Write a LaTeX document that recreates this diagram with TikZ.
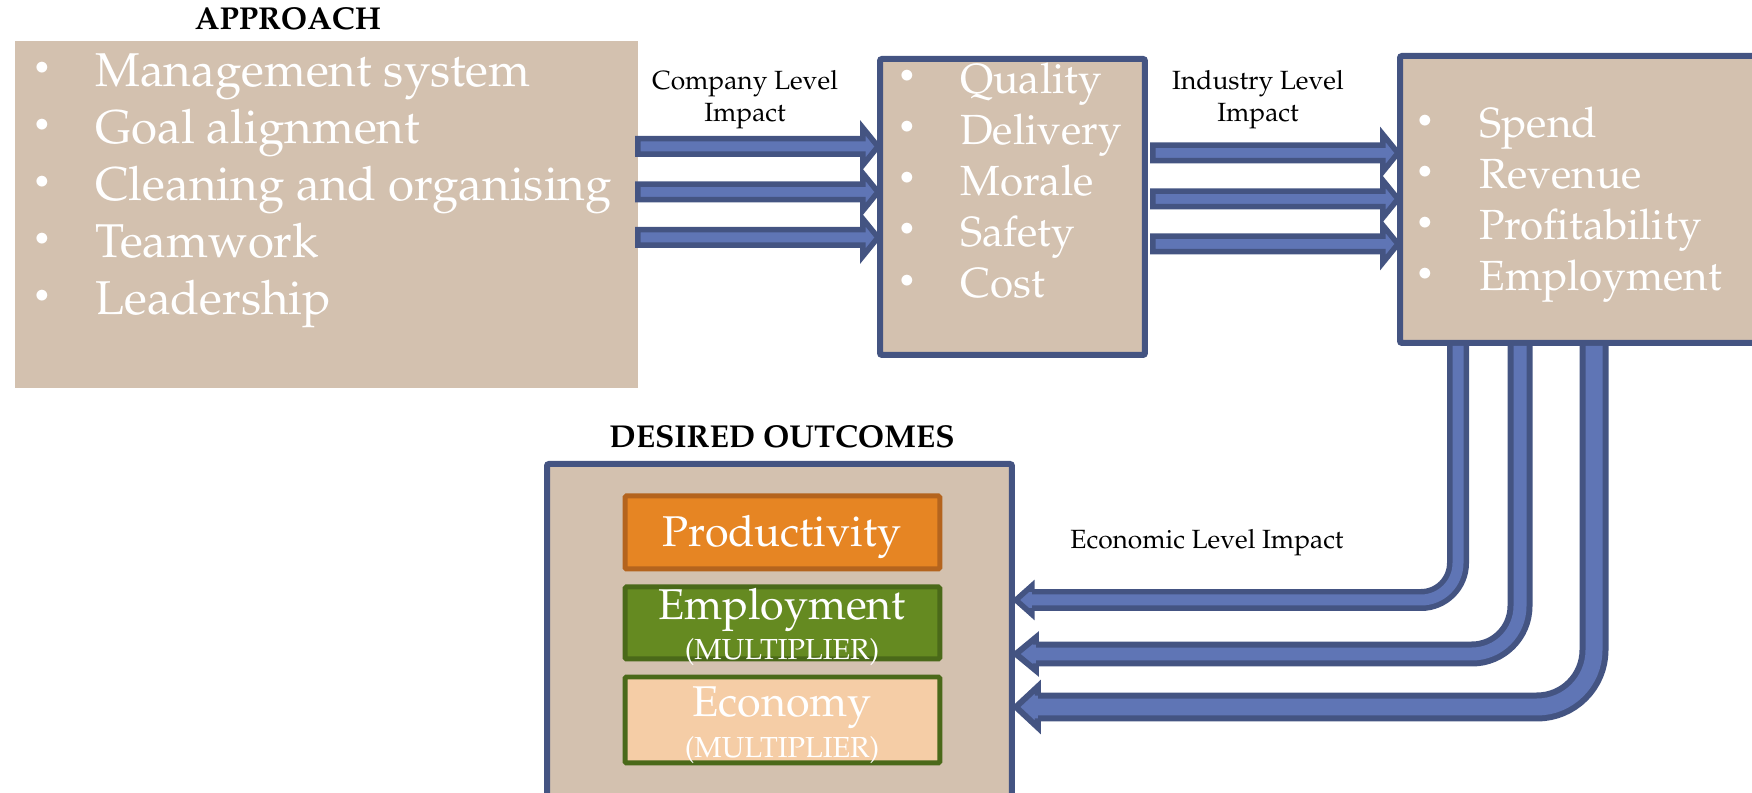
\documentclass[tikz,border=0pt]{standalone}
\usepackage[T1]{fontenc}
\usepackage{mathpazo}

\definecolor{tan}{RGB}{211,193,175}
\definecolor{edgeblue}{RGB}{68,84,130}
\definecolor{arrowblue}{RGB}{95,117,181}
\definecolor{prodorange}{RGB}{230,133,35}
\definecolor{prodedge}{RGB}{180,100,30}
\definecolor{emplgreen}{RGB}{101,138,33}
\definecolor{greenedge}{RGB}{74,105,25}
\definecolor{econpeach}{RGB}{245,205,166}

\tikzset{
	panel/.style={fill=tan, inner sep=0pt, outer sep=0pt, anchor=north west},
	framed/.style={panel, draw=edgeblue, line width=1.2mm, rounded corners=0.4mm},
	result/.style={inner sep=0pt, outer sep=0pt, anchor=north west, line width=1mm,
		rounded corners=0.3mm, minimum width=63mm},
	bullet/.style={text=white, anchor=center, inner sep=0pt, font=\fontsize{18}{20}\selectfont},
	item/.style={text=white, anchor=base west, inner sep=0pt},
	impact/.style={inner sep=0pt, align=center, font=\fontsize{15}{18}\selectfont},
	heading/.style={inner sep=0pt, anchor=base, font=\bfseries\fontsize{18}{22}\selectfont},
	block/.style={fill=arrowblue, draw=edgeblue, line width=1.1mm, line join=miter},
	pipe/.style={draw=edgeblue, double=arrowblue}
}

% straight block arrow: tail, tip
\newcommand\blockarrow[2]{%
	\draw[block] ([yshift=1.55mm]#1) -- ([xshift=-3.05mm,yshift=1.55mm]#2)
		-- ([xshift=-3.05mm,yshift=3.75mm]#2) -- (#2)
		-- ([xshift=-3.05mm,yshift=-3.75mm]#2) -- ([xshift=-3.05mm,yshift=-1.55mm]#2)
		-- ([yshift=-1.55mm]#1) -- cycle;}

\begin{document}
\begin{tikzpicture}[x=0.02cm, y=-0.02cm]
	\useasboundingbox (0,0) rectangle (1752,793);
	\clip (0,0) rectangle (1752,793);

	% boxes
	\node[panel, minimum width=124.6mm, minimum height=69.4mm] (approach) at (15,41) {};
	\node[framed, minimum width=53mm, minimum height=59.2mm] (mid) at (880,59) {};
	\node[framed, minimum width=80mm, minimum height=57.4mm] (right) at (1400,56) {};
	\node[framed, minimum width=93mm, minimum height=72mm] (outcome) at (547,464) {};

	\node[result, fill=prodorange, draw=prodedge, minimum height=14.6mm] (prod) at (625,496) {};
	\node[result, fill=emplgreen, draw=greenedge, minimum height=14.4mm] (empl) at (625,587) {};
	\node[result, fill=econpeach, draw=greenedge, minimum height=17.2mm] (econ) at (625,677) {};

	% titles
	\node[heading] (apptitle) at (288,30) {APPROACH};
	\node[heading] (outtitle) at (782,448) {DESIRED OUTCOMES};

	% bullet lists
	\foreach \txt [count=\i] in {Management system, Goal alignment, Cleaning and organising, Teamwork, Leadership} {
		\node[bullet] (ab\i) at (42, 13+57*\i) {\textbullet};
		\node[item, font=\fontsize{27}{32}\selectfont] (ai\i) at (95, 30+57*\i) {\txt};
	}
	\foreach \txt [count=\i] in {Quality, Delivery, Morale, Safety, Cost} {
		\node[bullet] (mb\i) at (907, 27+51.2*\i) {\textbullet};
		\node[item, font=\fontsize{24}{29}\selectfont] (mi\i) at (960, 42+51.2*\i) {\txt};
	}
	\foreach \txt [count=\i] in {Spend, Revenue, Profitability, Employment} {
		\node[bullet] (rb\i) at (1425, 72+51*\i) {\textbullet};
		\node[item, font=\fontsize{24}{29}\selectfont] (ri\i) at (1479, 87+51*\i) {\txt};
	}

	% outcome texts
	\node[anchor=base, inner sep=0pt, text=white, font=\fontsize{24.5}{29}\selectfont] (prodtxt) at (782,547) {Productivity};
	\node[anchor=base, inner sep=0pt, text=white, font=\fontsize{24.5}{29}\selectfont] (empltxt) at (782,620) {Employment};
	\node[anchor=base, inner sep=0pt, text=white, font=\fontsize{16.5}{20}\selectfont] (emplmul) at (782,660) {(MULTIPLIER)};
	\node[anchor=base, inner sep=0pt, text=white, font=\fontsize{24.5}{29}\selectfont] (econtxt) at (782,717) {Economy};
	\node[anchor=base, inner sep=0pt, text=white, font=\fontsize{16.5}{20}\selectfont] (econmul) at (782,757) {(MULTIPLIER)};

	% arrow labels
	\node[impact] (complabel) at (745,100) {Company Level\\Impact};
	\node[impact] (indlabel) at (1258,100) {Industry Level\\Impact};
	\node[impact, anchor=base] (ecolabel) at (1207,549) {Economic Level Impact};

	% company and industry arrows
	\foreach \ay [count=\i] in {146.5,192,237.5} {
		\coordinate (ct\i) at (approach.east |- 0,\ay);
		\path (mid.west |- 0,\ay) ++(-2,0) coordinate (ch\i);
		\blockarrow{ct\i}{ch\i}
	}
	\foreach \ay [count=\i] in {153,199,244} {
		\path (mid.east |- 0,\ay) ++(8,0) coordinate (it\i);
		\path (right.west |- 0,\ay) ++(-2,0) coordinate (ih\i);
		\blockarrow{it\i}{ih\i}
	}

	% economic arrows bending back to the outcomes
	\foreach \pipex/\ay/\rad/\lw/\dd/\hh/\hl/\bh [count=\i] in
		{1458/600/7.4/1.1/2.2/2.85/3.2/1.65, 1520/654/9.6/1.2/2.6/3.3/4.0/1.9, 1594/707/11.4/1.2/3.4/4.1/4.4/2.3} {
		\path (right.south -| \pipex,0) ++(0,3) coordinate (et\i);
		\path (outcome.east |- 0,\ay) ++(4,0) coordinate (eh\i);
		\draw[pipe, line width=\lw mm, double distance=\dd mm, rounded corners=\rad mm]
			(et\i) |- ([xshift=\hl mm]eh\i);
		\path[fill=arrowblue, draw=edgeblue, line width=\lw mm, line join=miter]
			([xshift=\hl mm,yshift=\bh mm]eh\i) -- ([xshift=\hl mm,yshift=\hh mm]eh\i) -- (eh\i)
			-- ([xshift=\hl mm,yshift=-\hh mm]eh\i) -- ([xshift=\hl mm,yshift=-\bh mm]eh\i);
	}
\end{tikzpicture}
\end{document}
